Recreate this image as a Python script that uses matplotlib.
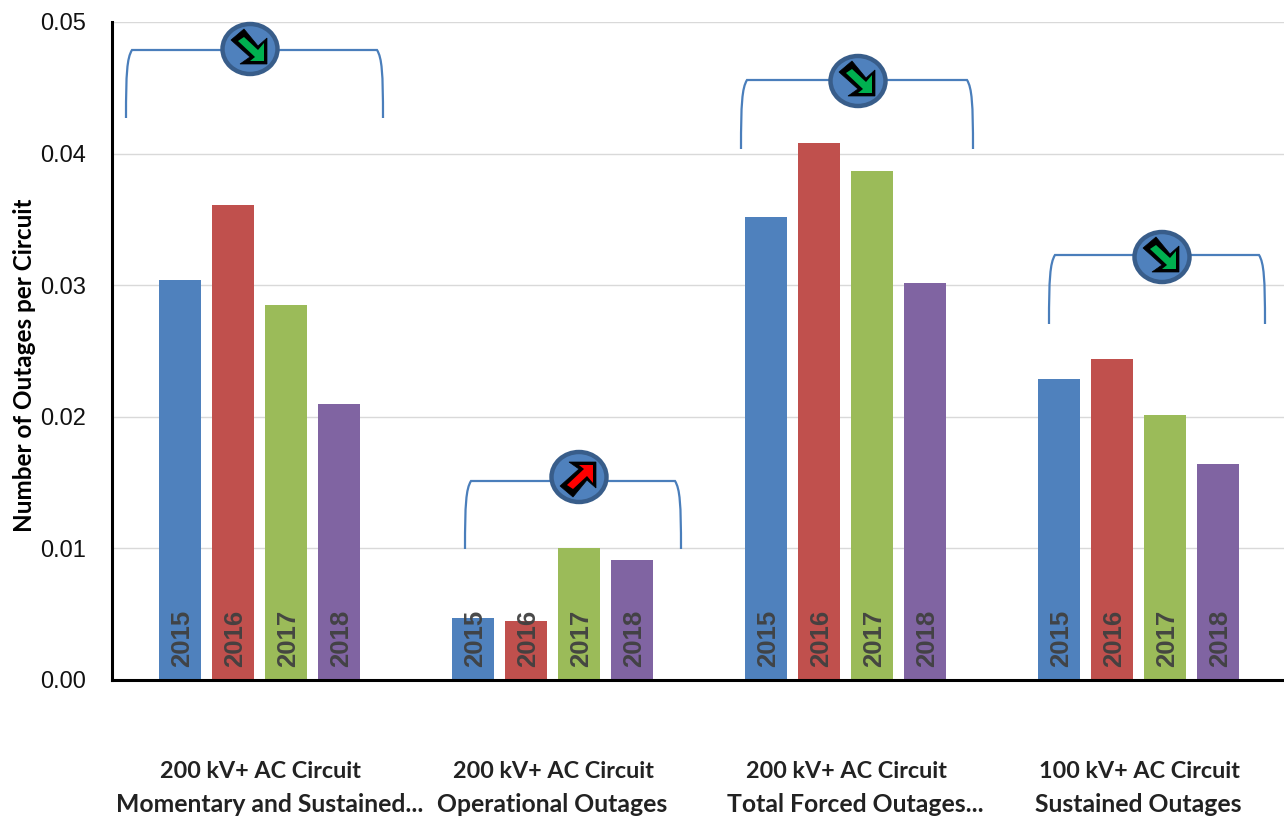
"""Outages per circuit by voltage class, 2015-2018, with trend markers."""
import matplotlib

matplotlib.use("Agg")
import matplotlib.pyplot as plt
import numpy as np
from matplotlib.patches import Ellipse, PathPatch, Polygon
from matplotlib.path import Path

plt.rcParams["font.family"] = ["Liberation Sans", "DejaVu Sans"]

years = ["2015", "2016", "2017", "2018"]
colors = ["#4F81BD", "#C0504D", "#9BBB59", "#8064A2"]
cat_line1 = ["200 kV+ AC Circuit", "200 kV+ AC Circuit", "200 kV+ AC Circuit", "100 kV+ AC Circuit"]
cat_line2 = ["Momentary and Sustained...", "Operational Outages", "Total Forced Outages...", "Sustained Outages"]
outages_2015 = [0.0304, 0.0047, 0.0352, 0.0229]
outages_2016 = [0.0361, 0.0045, 0.0408, 0.0244]
outages_2017 = [0.0285, 0.0100, 0.0387, 0.0201]
outages_2018 = [0.0210, 0.0091, 0.0302, 0.0164]
yticks = [0.00, 0.01, 0.02, 0.03, 0.04, 0.05]

W, H = 1284, 816
BAR_W = 0.1434
BAR_STEP = 0.181
X_NUDGE = 0.0034

# bracket + marker positions in picture pixels: left, right, top, bottom, circle x, circle y, trend
brackets = [
    (126, 383, 50, 118, 250, 49, "down"),
    (465, 681, 481, 549, 579, 477, "up"),
    (741, 973, 80, 149, 858, 81, "down"),
    (1049, 1265, 255, 324, 1162, 257, "down"),
]

# fat arrow outline relative to the circle centre, pointing down-right
ARROW_OUTER = [(-6, -20), (-19, -9), (0, 8), (-10, 15), (17, 15), (17, -11), (8, -3)]
ARROW_INNER = [(-6, -12), (-12, -8), (5, 8), (0, 12), (14, 12), (14, -6), (8, 1)]


def draw_bracket(over, left, right, top, bottom, cx, cy, trend):
    verts = [
        (left, bottom), (left, bottom - 45), (left + 1, top + 8), (left + 6, top),
        (right - 6, top), (right - 1, top + 8), (right, bottom - 45), (right, bottom),
    ]
    codes = [Path.MOVETO, Path.CURVE4, Path.CURVE4, Path.CURVE4,
             Path.LINETO, Path.CURVE4, Path.CURVE4, Path.CURVE4]
    over.add_patch(PathPatch(Path(verts, codes), fill=False, edgecolor="#4A7EBB", lw=1.6))
    over.add_patch(Ellipse((cx, cy), 55, 50, facecolor="#4F81BD", edgecolor="#385D8A", lw=3.2, zorder=3))
    flip = 1 if trend == "down" else -1
    fill = "#00B050" if trend == "down" else "#FF0000"
    outer = [(cx + dx, cy + flip * dy) for dx, dy in ARROW_OUTER]
    inner = [(cx + dx, cy + flip * dy) for dx, dy in ARROW_INNER]
    over.add_patch(Polygon(outer, closed=True, facecolor="black", edgecolor="black", lw=0.5, zorder=4))
    over.add_patch(Polygon(inner, closed=True, facecolor=fill, edgecolor="none", zorder=5))


fig = plt.figure(figsize=(W / 100, H / 100), dpi=100)
ax = fig.add_axes([112 / W, (H - 680) / H, 1172 / W, 658 / H])

series = [outages_2015, outages_2016, outages_2017, outages_2018]
x = np.arange(len(cat_line1)) + 0.5 + X_NUDGE
for j, (values, year, color) in enumerate(zip(series, years, colors)):
    pos = x + (j - 1.5) * BAR_STEP
    ax.bar(pos, values, BAR_W, color=color, zorder=2)
    for p in pos:
        ax.annotate(year, (p, 0), xytext=(2, 13), textcoords="offset pixels", rotation=90,
                    ha="center", va="bottom", fontsize=18.5, fontweight="bold", color="#404040",
                    alpha=0.95, zorder=3)

for i, (l1, l2) in enumerate(zip(cat_line1, cat_line2)):
    shift = 10 if l2.endswith("...") else 0
    ax.annotate(l1, (x[i], 0), xytext=(1, -92), textcoords="offset pixels", ha="center", va="center",
                fontsize=16.8, fontweight="bold", family=["Lato", "DejaVu Sans"], color="#222222",
                annotation_clip=False)
    ax.annotate(l2, (x[i], 0), xytext=(shift, -124), textcoords="offset pixels", ha="center", va="center",
                fontsize=17.8, fontweight="bold", family=["Lato", "DejaVu Sans"], color="#222222",
                annotation_clip=False)

ax.set_xlim(0, 4)
ax.set_ylim(0, 0.05)
ax.set_xticks([])
ax.set_yticks(yticks)
ax.set_yticklabels([f"{v:.2f}" for v in yticks], fontsize=17)
ax.tick_params(axis="y", length=0, pad=19, labelcolor="#111111")
ax.grid(axis="y", color="#D9D9D9", lw=1, zorder=0)
ax.set_axisbelow(True)
for side in ("top", "right"):
    ax.spines[side].set_visible(False)
for side in ("left", "bottom"):
    ax.spines[side].set_linewidth(2.2)
fig.text(25 / W, 1 - 365 / H, "Number of Outages per Circuit", rotation=90, ha="center", va="center",
         fontsize=17.5, fontweight="bold", family=["Lato", "DejaVu Sans"], color="black")

over = fig.add_axes([0, 0, 1, 1], zorder=5)
over.set_xlim(0, W)
over.set_ylim(H, 0)
over.axis("off")
for b in brackets:
    draw_bracket(over, *b)

fig.savefig("out.png", dpi=100)
plt.close(fig)
